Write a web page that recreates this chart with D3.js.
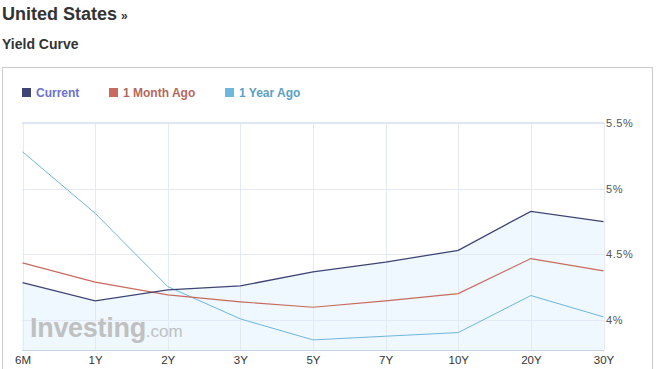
<!DOCTYPE html>
<html>
<head>
<meta charset="utf-8">
<script src="https://cdn.jsdelivr.net/npm/d3@7"></script>
<style>
  body { margin: 0; background: #fff; font-family: Arial, "Liberation Sans", sans-serif; }
</style>
</head>
<body>
<svg id="chart" width="658" height="369"></svg>
<script>
var maturities = ["6M", "1Y", "2Y", "3Y", "5Y", "7Y", "10Y", "20Y", "30Y"];
var current = [4.284, 4.144, 4.228, 4.259, 4.365, 4.439, 4.530, 4.827, 4.748];
var monthAgo = [4.434, 4.287, 4.190, 4.137, 4.096, 4.144, 4.200, 4.467, 4.373];
var yearAgo = [5.281, 4.812, 4.253, 4.007, 3.847, 3.875, 3.903, 4.185, 4.022];
var yTicks = [4, 4.5, 5, 5.5];

var series = [
    {name: "Current", values: current, color: "#3e4474", text: "#6b72c9", width: 1.3},
    {name: "1 Month Ago", values: monthAgo, color: "#c86b5e", text: "#b5675c", width: 1.2},
    {name: "1 Year Ago", values: yearAgo, color: "#6db7dc", text: "#5a9fc4", width: 1}
];

var svg = d3.select("#chart");

// heading
svg.append("text")
    .attr("x", 2).attr("y", 20)
    .style("font-size", "18px").style("font-weight", "bold").style("fill", "#333")
    .text("United States");
svg.append("text")
    .attr("x", 121).attr("y", 20)
    .style("font-size", "12px").style("font-weight", "bold").style("fill", "#333")
    .text("»");
svg.append("text")
    .attr("x", 2).attr("y", 49)
    .style("font-size", "14px").style("font-weight", "bold").style("fill", "#333")
    .text("Yield Curve");

// box
svg.append("rect")
    .attr("x", 2.5).attr("y", 67.5)
    .attr("width", 650).attr("height", 320)
    .style("fill", "none").style("stroke", "#cccccc");

var x = d3.scalePoint().domain(maturities).range([22.5, 603.5]);
var y = d3.scaleLinear().domain([3.77, 5.5]).range([350, 123]);

var g = svg.append("g");

// area under current
var area = d3.area()
    .x(function (d, i) { return x(maturities[i]); })
    .y0(y(3.77))
    .y1(function (d) { return y(d); });
g.append("path")
    .attr("d", area(current))
    .style("fill", "#eef8fe");

// grid
g.selectAll(".vgrid")
    .data(maturities)
    .enter().append("line")
    .attr("class", "vgrid")
    .attr("x1", function (d) { return Math.round(x(d)) + 0.5; })
    .attr("x2", function (d) { return Math.round(x(d)) + 0.5; })
    .attr("y1", 123).attr("y2", 350)
    .style("stroke", "#e3e9f6");
g.selectAll(".hgrid")
    .data(yTicks)
    .enter().append("line")
    .attr("class", "hgrid")
    .attr("x1", 22).attr("x2", 604)
    .attr("y1", function (d) { return Math.round(y(d)) + 0.5; })
    .attr("y2", function (d) { return Math.round(y(d)) + 0.5; })
    .style("stroke", "#e3e9f6");
g.append("line")
    .attr("x1", 22).attr("x2", 604).attr("y1", 123).attr("y2", 123)
    .style("stroke", "#dfe5f4").style("stroke-width", 2);
g.append("line")
    .attr("x1", 22).attr("x2", 604).attr("y1", 350.5).attr("y2", 350.5)
    .style("stroke", "#c6d4ea");

// watermark
var wm = g.append("text")
    .attr("x", 30).attr("y", 337)
    .style("fill", "#c0c0c0");
wm.append("tspan").style("font-size", "27px").style("font-weight", "bold").style("letter-spacing", "-0.3px").text("Investing");
wm.append("tspan").style("font-size", "17px").text(".com");

// lines
var line = d3.line()
    .x(function (d, i) { return x(maturities[i]); })
    .y(function (d) { return y(d); });
series.slice().reverse().forEach(function (s) {
    g.append("path")
        .attr("d", line(s.values))
        .style("fill", "none")
        .style("stroke", s.color)
        .style("stroke-width", s.width);
});

// axes
var xAxis = svg.append("g")
    .attr("transform", "translate(0,350)")
    .call(d3.axisBottom(x).tickSize(0).tickPadding(6));
xAxis.select(".domain").remove();
xAxis.selectAll("text")
    .style("font-family", "Arial, 'Liberation Sans', sans-serif")
    .style("font-size", "11.5px").style("fill", "#333");

var yAxis = svg.append("g")
    .attr("transform", "translate(604,0)")
    .call(d3.axisRight(y).tickValues(yTicks).tickSize(0).tickPadding(2)
        .tickFormat(function (d) { return d + "%"; }));
yAxis.select(".domain").remove();
yAxis.selectAll("text")
    .style("font-family", "Arial, 'Liberation Sans', sans-serif")
    .style("font-size", "11px").style("fill", "#555").style("letter-spacing", "0.6px");

// legend
var legendX = [22, 109, 225];
var legend = svg.selectAll(".legend")
    .data(series)
    .enter().append("g")
    .attr("class", "legend")
    .attr("transform", function (d, i) { return "translate(" + legendX[i] + ",88)"; });
legend.append("rect")
    .attr("width", 9).attr("height", 9)
    .style("fill", function (d) { return d.color; });
legend.append("text")
    .attr("x", 14).attr("y", 9)
    .style("font-size", "12px").style("font-weight", "bold")
    .style("fill", function (d) { return d.text; })
    .text(function (d) { return d.name; });
</script>
</body>
</html>
